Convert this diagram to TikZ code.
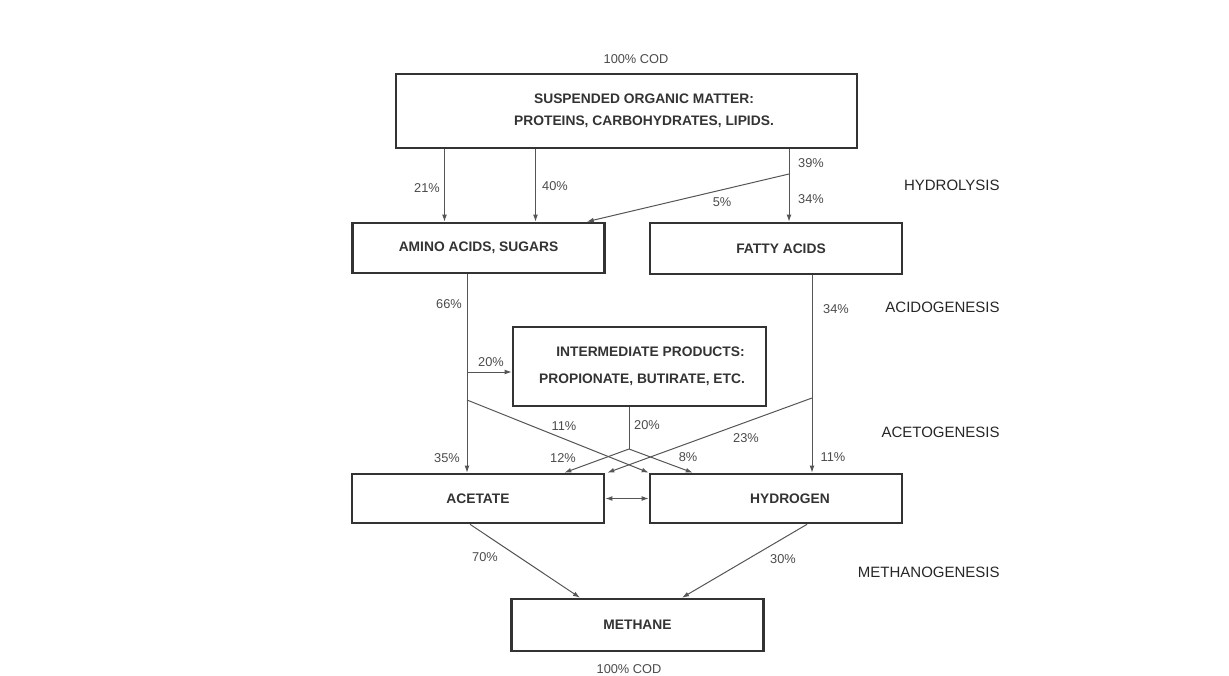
\documentclass[tikz,border=0pt]{standalone}
\usepackage{fontspec}
\setmainfont{Liberation Sans}
\usetikzlibrary{positioning, calc, arrows.meta}

\definecolor{boxline}{HTML}{333333}
\definecolor{arrowgray}{HTML}{555555}
\definecolor{labelgray}{HTML}{4A4A4A}

\begin{document}
\begin{tikzpicture}[
    x=0.5pt, y=-0.5pt,
    >={Latex[length=3.5pt,width=2.4pt]},
    box/.style={draw=boxline, line width=1.3pt, minimum width=126pt, minimum height=25pt,
        inner sep=0pt, align=center, text=boxline, font=\fontsize{6.9}{8}\selectfont\bfseries},
    flow/.style={->, draw=arrowgray, line width=0.5pt},
    pct/.style={text=labelgray, font=\fontsize{6.4}{7}\selectfont, inner sep=0pt},
    stage/.style={text=black!85, font=\fontsize{7.5}{9}\selectfont, inner sep=0pt, anchor=east}
]
\useasboundingbox (0,0) rectangle (1229,675);

% Boxes
\node[box, minimum width=230.5pt, minimum height=37pt] (som) at (626.5,111)
    {\hspace*{17.5pt}SUSPENDED ORGANIC MATTER:\\[3pt]\hspace*{17.5pt}PROTEINS, CARBOHYDRATES, LIPIDS.};
\node[box] (aas) at (478.5,248) {AMINO ACIDS, SUGARS};
\node[box, minimum height=25.5pt] (fa) at (776,248.5) {\hspace*{5pt}FATTY ACIDS};
\node[box, minimum width=126.5pt, minimum height=39.5pt] (ip) at (639.5,366.5)
    {\hspace*{11pt}INTERMEDIATE PRODUCTS:\\[5.5pt]\hspace*{2.5pt}PROPIONATE, BUTIRATE, ETC.};
\node[box, minimum height=24.5pt] (ace) at (478,498.5) {ACETATE};
\node[box, minimum height=24.5pt] (hyd) at (776,498.5) {\hspace*{14pt}HYDROGEN};
\node[box, minimum height=26pt] (met) at (637.5,625) {METHANE};

% Branch points
\coordinate (b39) at (789,174);
\coordinate (b20) at (467,372);
\coordinate (b11) at (467,400);
\coordinate (bip) at (629,449);
\coordinate (bfa) at (812,398);

% Hydrolysis
\draw[flow] ([xshift=-17pt]aas.north |- som.south) -- ([xshift=-17pt]aas.north);
\draw[flow] ([xshift=28.5pt]aas.north |- som.south) -- ([xshift=28.5pt]aas.north);
\draw[flow] (b39 |- som.south) -- (b39 |- fa.north);
\draw[flow] (b39) -- ([xshift=-9.5pt]aas.north east);

% Acidogenesis
\draw[flow] (b20 |- aas.south) -- (b20 |- ace.north);
\draw[flow] (b20) -- (b20 -| ip.west);
\draw[flow] (bfa |- fa.south) -- (bfa |- hyd.north);

% Acetogenesis
\draw[flow] (b11) -- (hyd.north west);
\draw[flow, -] (bip |- ip.south) -- (bip);
\draw[flow] (bip) -- ([xshift=-20.5pt]ace.north east);
\draw[flow] (bip) -- ([xshift=22pt]hyd.north west);
\draw[flow] (bfa) -- ([xshift=1pt]ace.north east);
\draw[flow, <->] (ace) -- (hyd);

% Methanogenesis
\draw[flow] ([xshift=-4pt]ace.south) -- ([xshift=-28.75pt]met.north);
\draw[flow] ([xshift=15.5pt]hyd.south) -- ([xshift=22.25pt]met.north);

% Percentages
\node[pct] (codin) at (636,59) {100\% COD};
\node[pct] (codout) at (629,669) {100\% COD};
\node[pct] (p21) at (427,188) {21\%};
\node[pct] (p40) at (555,186) {40\%};
\node[pct] (p39) at (811,163) {39\%};
\node[pct] (p34a) at (811,199) {34\%};
\node[pct] (p5) at (722,202) {5\%};
\node[pct] (p66) at (449,304) {66\%};
\node[pct] (p20a) at (491,362) {20\%};
\node[pct] (p34b) at (836,309) {34\%};
\node[pct] (p11a) at (564,426) {11\%};
\node[pct] (p20b) at (647,425) {20\%};
\node[pct] (p23) at (746,438) {23\%};
\node[pct] (p35) at (447,458) {35\%};
\node[pct] (p12) at (563,458) {12\%};
\node[pct] (p8) at (688,457) {8\%};
\node[pct] (p11b) at (833,457) {11\%};
\node[pct] (p70) at (485,557) {70\%};
\node[pct] (p30) at (783,559) {30\%};

% Stages
\node[stage] (hydro) at (1000,185) {HYDROLYSIS};
\node[stage] (acido) at (1000,307) {ACIDOGENESIS};
\node[stage] (aceto) at (1000,432) {ACETOGENESIS};
\node[stage] (metha) at (1000,572) {METHANOGENESIS};

\end{tikzpicture}
\end{document}
